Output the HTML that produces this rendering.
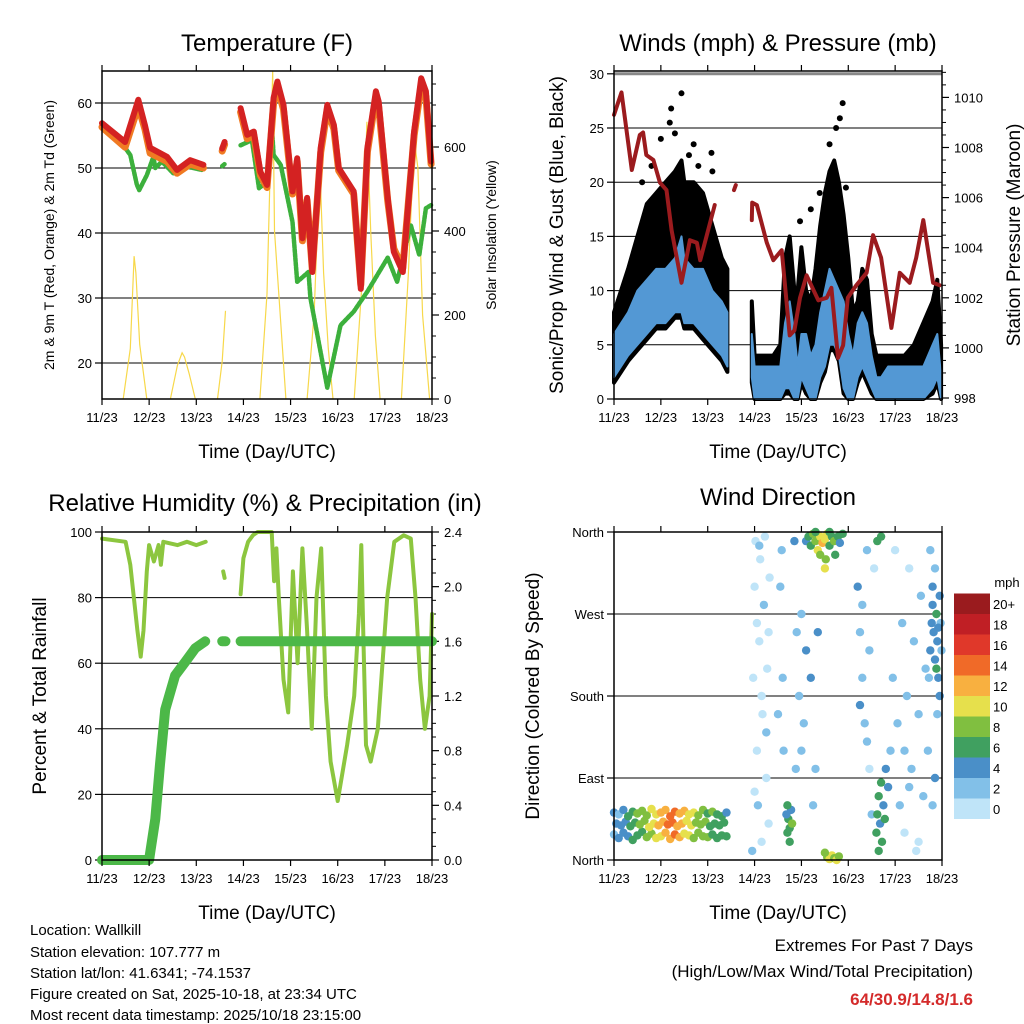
<!DOCTYPE html>
<html><head><meta charset="utf-8"><style>
html,body{margin:0;padding:0;background:#fff}
svg{display:block}
text{font-family:"Liberation Sans",sans-serif;fill:#000}
</style></head><body>
<svg id="s" width="1024" height="1024" viewBox="0 0 1024 1024" xmlns="http://www.w3.org/2000/svg">
<g id="g"></g>
<g>
<text x="30" y="935" font-size="15">Location: Wallkill</text>
<text x="30" y="957" font-size="15">Station elevation: 107.777 m</text>
<text x="30" y="978" font-size="15">Station lat/lon: 41.6341; -74.1537</text>
<text x="30" y="999" font-size="15">Figure created on Sat, 2025-10-18, at 23:34 UTC</text>
<text x="30" y="1020" font-size="15">Most recent data timestamp: 2025/10/18 23:15:00</text>
<text x="973" y="951" font-size="17" text-anchor="end">Extremes For Past 7 Days</text>
<text x="973" y="977" font-size="17" text-anchor="end">(High/Low/Max Wind/Total Precipitation)</text>
<text x="973" y="1005" font-size="17" text-anchor="end" font-weight="bold" style="fill:#d42a2a">64/30.9/14.8/1.6</text>
</g>
</svg>
<script>
// ---- Temperature data (day offset from 11/23) ----
const tT=[0,0.49,0.77,0.91,1.02,1.38,1.59,1.87,2.15,null,2.55,2.6,null,2.94,3.08,3.22,3.36,3.5,3.64,3.72,3.85,4.04,4.14,4.25,4.35,4.46,4.64,4.78,4.92,5.02,5.34,5.49,5.63,5.81,5.87,6.06,6.19,6.38,6.62,6.77,6.87,6.98];
const tRed=[56.9,54.0,60.5,56.6,53.1,51.7,49.7,51.2,50.5,null,53,54,null,59.2,55.1,55.6,49.4,47.4,60.8,63.3,59.7,46.4,51.5,39.2,45.4,34.0,53.1,59.7,56.6,50,46.4,31.4,53.1,61.8,60.2,45.4,37.1,34,55.6,63.8,61.8,51.0];
const tOrange=[56.3,53.2,59.5,56.0,52.3,51.0,49.2,50.6,50.0,null,52.6,53.6,null,58.6,54.5,55.0,48.9,47.0,60.0,62.5,59.0,46.0,51.0,38.8,45.0,34.4,52.4,59.0,56.0,49.6,46.0,32.0,52.5,61.0,59.4,45.0,37.6,34.6,55.0,62.8,61.0,50.6];
const tdT=[0,0.45,0.6,0.74,0.79,0.95,1.09,1.13,1.27,1.51,1.8,2.12,null,2.55,2.6,null,2.94,3.18,3.33,3.5,3.61,3.64,3.79,4.04,4.14,4.38,4.42,4.78,5.06,5.34,5.63,6.06,6.26,6.55,6.73,6.87,6.98];
const tdV=[56.4,53.5,52,47.4,46.6,48.9,51.7,50,51,49.2,50.2,49.7,null,50.3,50.6,null,53.5,54.3,46.9,47.9,55.6,52,50.5,41.7,32.5,34.0,30,16.2,25.8,27.9,31.0,36.2,32.5,41.2,36.6,43.8,44.3];
const solT=[0.45,0.6,0.68,0.72,0.8,0.95,null,1.45,1.6,1.7,1.75,1.85,1.98,null,2.45,2.55,2.62,null,3.35,3.5,3.62,3.66,3.75,3.9,null,4.35,4.5,4.62,4.7,4.8,4.9,null,5.35,5.5,5.62,5.7,5.8,5.9,null,6.35,6.5,6.62,6.7,6.8,6.95];
const solV=[0,120,340,300,130,0,null,0,80,110,100,60,0,null,0,90,210,null,0,250,780,400,250,0,null,0,200,560,300,120,0,null,0,250,660,400,150,0,null,0,300,620,550,200,0];
// ---- Winds data ----
const windT=[0,0.3,0.5,0.7,0.9,1.1,1.3,1.44,1.5,1.7,1.9,2.1,2.3,2.42,null,2.94,3.0,3.2,3.4,3.55,3.65,3.75,3.85,3.92,4.0,4.1,4.2,4.3,4.4,4.5,4.6,4.7,4.8,4.9,5.0,5.1,5.2,5.3,5.4,5.5,5.6,5.7,5.85,6.0,6.2,6.4,6.6,6.8,6.9,6.98];
const blueLo=[2,4,5,6,7,7,8,8,7,7,6,5,4,3,null,2,0,0,0,0,1,1,0,0,2,1,0,0,2,3,5,5,4,1,0,0,2,3,2,1,0,0,0,0,0,0,0,1,2,0];
const blueHi=[6,8,10,11,12,12,13,15,13,12,12,10,9,8,null,6,3,3,3,3,7,9,6,3,6,6,4,5,8,10,12,11,10,9,6,4,7,8,7,4,2,2,3,3,3,3,3,5,6,2];
const gustHi=[8,12,15,18,19,20,21,22,20,20,19,16,13,12,null,9,4,4,4,5,13,15,10,10,14,10,9,12,16,19,21,22,20,17,13,8,9,12,11,6,4,4,4,4,4,5,7,9,11,5];
const gustOutT=[1.44,1.22,1.19,4.88,4.82,4.74,4.39,4.2,3.97,2.08,2.1,1.0,0.6,1.7,1.3,1.6,1.8,4.6,4.95,0.8];
const gustOutV=[28.2,26.8,25.5,27.3,25.9,25,19,17.5,16.4,22.7,21,24,20,23.5,24.5,22.5,21.5,23.5,19.5,21.5];
const presT=[0,0.16,0.38,0.55,0.62,0.69,0.84,0.98,1.12,1.23,1.44,1.62,1.77,1.84,1.98,2.15,null,2.56,2.6,null,2.94,2.95,3.05,3.26,3.4,3.58,3.75,3.85,3.97,4.11,4.26,4.36,4.54,4.64,4.78,4.89,4.99,5.17,5.39,5.53,5.7,5.92,6.1,6.31,6.45,6.6,6.81,6.95];
const presV=[1009.3,1010.2,1007.1,1008.5,1008.6,1007.7,1007.5,1006.6,1006.3,1004.7,1002.6,1004.3,1004.2,1003.5,1004.5,1005.7,null,1006.3,1006.5,null,1005.1,1005.8,1005.7,1004.2,1003.5,1003.9,1000.5,1000.7,1002.0,1002.9,1002.3,1001.9,1002.0,1002.4,999.6,1000.1,1002.0,1002.5,1003.0,1004.5,1003.6,1000.8,1003.0,1002.6,1003.6,1005.1,1002.6,1002.5];
// ---- RH / Precip ----
const rhT=[0,0.5,0.6,0.75,0.82,0.88,0.95,1.0,1.1,1.2,1.25,1.3,1.6,1.8,2.0,2.2,null,2.57,2.6,null,2.94,3.0,3.1,3.2,3.3,3.5,3.6,3.65,3.7,3.75,3.85,3.95,4.05,4.15,4.25,4.35,4.45,4.55,4.65,4.75,4.85,5.0,5.2,5.35,5.45,5.5,5.55,5.6,5.7,5.85,5.95,6.05,6.2,6.4,6.55,6.65,6.75,6.85,6.95,7.0];
const rhV=[98,97,90,70,62,70,88,96,91,96,90,97,96,97,96,97,null,88,86,null,81,92,97,99,100,100,100,85,95,80,55,45,88,60,95,70,40,80,95,50,30,18,35,50,75,96,65,35,30,40,60,80,97,99,98,80,55,40,50,75];
const prT=[0,1.0,1.02,1.13,1.23,1.34,1.55,1.77,1.98,2.19,null,2.55,2.62,null,2.94,7.0];
const prV=[0,0,0.05,0.3,0.7,1.1,1.35,1.45,1.55,1.6,null,1.6,1.6,null,1.6,1.6];
// ---- Wind direction (day, degrees, mph) ----
const dirT=[
0,0.1,0.2,0.3,0.4,0.5,0.6,0.7,0.8,0.9,1.0,1.1,1.2,1.3,1.4,1.5,1.6,1.7,1.8,1.9,2.0,2.1,2.2,2.3,2.4,
0.05,0.15,0.25,0.35,0.45,0.55,0.65,0.75,0.85,0.95,1.05,1.15,1.25,1.35,1.45,1.55,1.65,1.75,1.85,1.95,2.05,2.15,2.25,2.35,
0,0.1,0.2,0.3,0.4,0.5,0.6,0.7,0.8,0.9,1.0,1.1,1.2,1.3,1.4,1.5,1.6,1.7,1.8,1.9,2.0,2.1,2.2,2.3,2.4,
2.95,2.97,3.0,3.02,3.05,3.07,3.1,3.12,3.15,3.17,3.2,3.22,3.25,3.27,3.3,3.32,3.05,3.15,3.25,3.0,3.1,3.3,
3.7,3.72,3.75,3.78,3.7,3.75,3.8,3.68,3.55,3.6,3.62,3.58,3.85,3.9,3.88,3.5,3.95,
4.1,4.15,4.2,4.25,4.3,4.35,4.4,4.45,4.5,4.52,4.55,4.6,4.65,4.7,4.72,4.78,4.82,4.88,4.4,4.5,4.3,4.6,
4.55,4.6,4.65,4.7,4.75,4.8,4.5,4.2,4.05,4.3,4.25,4.0,4.1,4.0,4.35,
5.2,5.25,5.3,5.35,5.4,5.45,5.5,5.55,5.3,5.25,5.45,5.4,
5.6,5.62,5.65,5.68,5.7,5.72,5.75,5.78,5.8,5.65,5.7,5.62,5.85,5.9,
5.95,6.0,6.05,6.1,6.15,6.2,6.25,6.3,6.35,6.4,6.45,6.5,6.55,6.6,6.65,6.2,6.3,6.5,
6.72,6.75,6.78,6.8,6.82,6.85,6.88,6.9,6.92,6.95,6.97,6.99,6.8,6.85,6.75,6.9,6.7,6.85,6.8,6.95,6.88,6.92];
const dirD=[
28,24,30,26,22,27,31,25,29,24,26,30,23,28,25,29,27,24,30,26,25,28,24,27,26,
40,38,42,37,41,39,43,36,40,38,42,39,41,37,40,43,38,41,39,42,37,40,38,41,
52,50,55,48,53,51,54,49,56,50,52,55,48,53,51,54,50,52,49,55,51,53,50,48,52,
10,200,300,350,120,60,240,330,20,160,280,355,90,210,40,310,260,180,140,75,345,250,
30,45,35,55,60,20,40,50,300,200,120,340,350,250,100,160,180,
350,355,345,358,350,340,355,348,352,330,358,345,355,350,335,355,348,358,335,320,360,360,
3,1,5,2,0,4,8,200,150,100,60,270,230,120,250,
300,250,200,150,340,100,50,320,280,170,230,130,
30,50,70,40,85,20,60,45,100,10,355,350,80,120,
200,340,150,60,260,30,180,320,100,240,10,160,290,70,210,120,80,20,
200,230,260,280,250,220,270,240,200,180,260,230,300,320,340,160,120,90,60,290,210,255];
const dirS=[
3,4,4,5,6,7,7,8,9,10,11,12,13,14,12,11,10,9,9,8,8,7,7,6,6,
4,5,5,6,7,8,9,10,11,12,13,15,14,13,12,11,10,9,8,8,7,7,6,6,
4,3,5,6,7,8,8,9,10,11,12,13,14,15,13,12,11,10,8,9,7,8,6,7,5,
2,1,1,0,1,2,1,0,1,1,2,1,1,0,1,1,0,1,2,1,2,0,
6,7,6,5,7,6,8,5,3,2,3,2,4,3,2,2,3,
5,7,6,8,9,10,11,12,10,9,11,7,6,8,6,7,5,6,9,10,7,6,
9,10,11,9,10,8,8,4,3,2,3,3,4,2,4,
4,3,2,3,2,1,2,1,3,4,3,2,
6,7,6,5,6,7,5,6,4,6,7,6,4,3,
2,1,2,3,2,1,2,1,2,2,1,2,3,2,3,2,3,1,
3,4,4,5,4,5,6,5,5,4,3,2,4,3,2,3,3,4,3,5,6,5];
const cbColors=['#bfe4f8','#82c0e8','#4a8fc8','#40a060','#80bf40','#e6e04c','#f8b040','#f06a28','#e0382a','#c01f25','#9a1b1e'];
const cbLabels=['0','2','4','6','8','10','12','14','16','18','20+'];
const dayLabels=['11/23','12/23','13/23','14/23','15/23','16/23','17/23','18/23'];

const NS='http://www.w3.org/2000/svg';
const root=document.getElementById('g');
function el(tag,attrs,parent){const e=document.createElementNS(NS,tag);for(const k in attrs)e.setAttribute(k,attrs[k]);(parent||root).appendChild(e);return e;}
function txt(x,y,s,size,anchor,parent,rot){const e=el('text',{x:x,y:y,'font-size':size,'text-anchor':anchor||'middle'},parent);if(rot)e.setAttribute('transform','rotate(-90 '+x+' '+y+')');e.textContent=s;return e;}
function pathFrom(xs,ys,fx,fy){let d='',pen=false;for(let i=0;i<xs.length;i++){if(xs[i]===null||ys[i]===null){pen=false;continue;}d+=(pen?'L':'M')+fx(xs[i]).toFixed(1)+' '+fy(ys[i]).toFixed(1);pen=true;}return d;}

function panel(name){
  const g=el('g',{});
  
  
  return g;
}
function frame(g,x0,x1,y0,y1){
  const r=el('rect',{x:x0,y:y0,width:x1-x0,height:y1-y0,fill:'none',stroke:'#000','stroke-width':1.5},g);
  
  
}
function dayAxis(g,x0,x1,y0,y1){
  const ax=el('g',{},g);
  
  
  for(let i=0;i<dayLabels.length;i++){
    const x=x0+i*(x1-x0)/7;
    el('line',{x1:x,x2:x,y1:y1,y2:y1+6,stroke:'#000','stroke-width':1.2},ax);
    el('line',{x1:x,x2:x,y1:y0,y2:y0-6,stroke:'#000','stroke-width':1.2},ax);
    const t=txt(x,y1+23,dayLabels[i],13,'middle',ax);
    
    
  }
  const t=txt((x0+x1)/2,y1+59,'Time (Day/UTC)',19,'middle',ax);
  
  
}
function leftAxis(g,x0,x1,vals,labels,fy,grid){
  const ax=el('g',{},g);
  
  
  for(let i=0;i<vals.length;i++){
    const y=fy(vals[i]);
    if(grid) el('line',{x1:x0,x2:x1,y1:y,y2:y,stroke:'#000','stroke-width':1},ax);
    el('line',{x1:x0-7,x2:x0,y1:y,y2:y,stroke:'#000','stroke-width':1.2},ax);
    const t=txt(x0-10,y+5,labels[i],13,'end',ax);
    
    
  }
}
function rightAxis(g,x1,vals,labels,fy,minor){
  const ax=el('g',{},g);
  
  
  for(let i=0;i<vals.length;i++){
    const y=fy(vals[i]);
    el('line',{x1:x1,x2:x1+7,y1:y,y2:y,stroke:'#000','stroke-width':1.2},ax);
    const t=txt(x1+12,y+5,labels[i],13,'start',ax);
    
    
  }
  (minor||[]).forEach(v=>{const y=fy(v);el('line',{x1:x1,x2:x1+4,y1:y,y2:y,stroke:'#000','stroke-width':1},ax);});
}

// ===== Panel 1: Temperature =====
(function(){
  const x0=102,x1=432,y0=71,y1=399;
  const g=panel('temperature-panel');
  const fx=d=>x0+d*(x1-x0)/7, fy=v=>103+(60-v)*6.5, fs=v=>399-v*0.42;
  leftAxis(g,x0,x1,[20,30,40,50,60],['20','30','40','50','60'],fy,true);
  rightAxis(g,x1,[0,200,400,600],['0','200','400','600'],fs,[50,100,150,250,300,350,450,500,550,650,700,750]);
  let p=el('path',{d:pathFrom(solT,solV,fx,fs),fill:'none',stroke:'#f7d84a','stroke-width':1.2},g);
  
  
  p=el('path',{d:pathFrom(tdT,tdV,fx,fy),fill:'none',stroke:'#3cb03c','stroke-width':4.5,'stroke-linejoin':'round','stroke-linecap':'round','stroke-dasharray':'3 1.5'},g);
  
  
  p=el('path',{d:pathFrom(tT,tOrange,fx,fy),fill:'none',stroke:'#f07a22','stroke-width':7,'stroke-linejoin':'round','stroke-linecap':'round'},g);
  
  
  p=el('path',{d:pathFrom(tT,tRed,fx,fy),fill:'none',stroke:'#d42222','stroke-width':6,'stroke-linejoin':'round','stroke-linecap':'round'},g);
  
  
  frame(g,x0,x1,y0,y1);
  dayAxis(g,x0,x1,y0,y1);
  let t=txt(267,51,'Temperature (F)',24,'middle',g);
  
  
  t=txt(54,235,'2m & 9m T (Red, Orange) & 2m Td (Green)',14,'middle',g,true);
  
  
  t=txt(496,235,'Solar Insolation (Yellow)',14,'middle',g,true);
  
  
})();

// ===== Panel 2: Winds & Pressure =====
(function(){
  const x0=614,x1=942,y0=71,y1=399;
  const g=panel('winds-panel');
  const fx=d=>x0+d*(x1-x0)/7, fy=v=>399-v*10.84, fp=v=>398-(v-998)*25.05;
  leftAxis(g,x0,x1,[0,5,10,15,20,25,30],['0','5','10','15','20','25','30'],fy,true);
  el('line',{x1:x0,x2:x1,y1:fy(30),y2:fy(30),stroke:'#888','stroke-width':3},g);
  rightAxis(g,x1,[998,1000,1002,1004,1006,1008,1010],['998','1000','1002','1004','1006','1008','1010'],fp,[998.5,999,999.5,1000.5,1001,1001.5,1002.5,1003,1003.5,1004.5,1005,1005.5,1006.5,1007,1007.5,1008.5,1009,1009.5,1010.5,1011]);
  const segs=[[]];
  for(let i=0;i<windT.length;i++){if(windT[i]===null){segs.push([]);continue;}segs[segs.length-1].push(i);}
  segs.forEach(s=>{
    let d='';
    s.forEach((i,k)=>{d+=(k?'L':'M')+fx(windT[i]).toFixed(1)+' '+fy(gustHi[i]).toFixed(1);});
    for(let k=s.length-1;k>=0;k--){const i=s[k];d+='L'+fx(windT[i]).toFixed(1)+' '+fy(Math.max(0,blueLo[i]-0.5)).toFixed(1);}
    const p=el('path',{d:d+'Z',fill:'#000',stroke:'#000','stroke-width':4,'stroke-linejoin':'round'},g);
    
    
  });
  for(let i=0;i<gustOutT.length;i++){
    const c=el('circle',{cx:fx(gustOutT[i]),cy:fy(gustOutV[i]),r:3,fill:'#000'},g);
    
    
  }
  segs.forEach(s=>{
    let d='';
    s.forEach((i,k)=>{d+=(k?'L':'M')+fx(windT[i]).toFixed(1)+' '+fy(blueHi[i]).toFixed(1);});
    for(let k=s.length-1;k>=0;k--){const i=s[k];d+='L'+fx(windT[i]).toFixed(1)+' '+fy(blueLo[i]).toFixed(1);}
    const p=el('path',{d:d+'Z',fill:'#5398d4',stroke:'#5398d4','stroke-width':2,'stroke-linejoin':'round'},g);
    
    
  });
  const p=el('path',{d:pathFrom(presT,presV,fx,fp),fill:'none',stroke:'#9b1b1e','stroke-width':4,'stroke-linejoin':'round','stroke-linecap':'round'},g);
  
  
  frame(g,x0,x1,y0,y1);
  dayAxis(g,x0,x1,y0,y1);
  let t=txt(778,51,'Winds (mph) & Pressure (mb)',24,'middle',g);
  
  
  t=txt(563,235,'Sonic/Prop Wind & Gust (Blue, Black)',19,'middle',g,true);
  
  
  t=txt(1020,235,'Station Pressure (Maroon)',19,'middle',g,true);
  
  
})();

// ===== Panel 3: RH & Precip =====
(function(){
  const x0=102,x1=432,y0=532,y1=860;
  const g=panel('humidity-panel');
  const fx=d=>x0+d*(x1-x0)/7, fy=v=>860-v*3.28, fr=v=>860-v*136.67;
  leftAxis(g,x0,x1,[0,20,40,60,80,100],['0','20','40','60','80','100'],fy,true);
  rightAxis(g,x1,[0,0.4,0.8,1.2,1.6,2.0,2.4],['0.0','0.4','0.8','1.2','1.6','2.0','2.4'],fr,[0.1,0.2,0.3,0.5,0.6,0.7,0.9,1.0,1.1,1.3,1.4,1.5,1.7,1.8,1.9,2.1,2.2,2.3]);
  let p=el('path',{d:pathFrom(rhT,rhV,fx,fy),fill:'none',stroke:'#8cc63f','stroke-width':4,'stroke-linejoin':'round','stroke-linecap':'round'},g);
  
  
  p=el('path',{d:pathFrom(prT,prV,fx,fr),fill:'none',stroke:'#4cb848','stroke-width':10,'stroke-linejoin':'round','stroke-linecap':'round'},g);
  
  
  frame(g,x0,x1,y0,y1);
  dayAxis(g,x0,x1,y0,y1);
  let t=txt(265,511,'Relative Humidity (%) & Precipitation (in)',24,'middle',g);
  
  
  t=txt(46,696,'Percent & Total Rainfall',19,'middle',g,true);
  
  
})();

// ===== Panel 4: Wind Direction =====
(function(){
  const x0=614,x1=942,y0=532,y1=860;
  const g=panel('wind-direction-panel');
  const fx=d=>x0+d*(x1-x0)/7, fy=v=>860-v*0.9111;
  leftAxis(g,x0,x1,[0,90,180,270,360],['North','East','South','West','North'],fy,true);
  for(let i=0;i<dirT.length;i++){
    const bin=Math.min(10,Math.floor(dirS[i]/2));
    const c=el('circle',{cx:fx(dirT[i]).toFixed(1),cy:fy(dirD[i]).toFixed(1),r:4.2,fill:cbColors[bin]},g);
    
    
  }
  frame(g,x0,x1,y0,y1);
  dayAxis(g,x0,x1,y0,y1);
  let t=txt(778,505,'Wind Direction',24,'middle',g);
  
  
  t=txt(539,696,'Direction (Colored By Speed)',19,'middle',g,true);
  
  
  const cb=el('g',{},g);
  
  
  const by=819,bh=20.5;
  for(let i=0;i<cbColors.length;i++){
    const r=el('rect',{x:954,y:by-(i+1)*bh,width:36,height:bh,fill:cbColors[i]},cb);
    
    
    const lt=txt(993,by-i*bh-bh/2+5,cbLabels[i],13,'start',cb);
    
    
  }
  t=txt(1007,587,'mph',13,'middle',cb);
  
  
})();
</script>
</body></html>
